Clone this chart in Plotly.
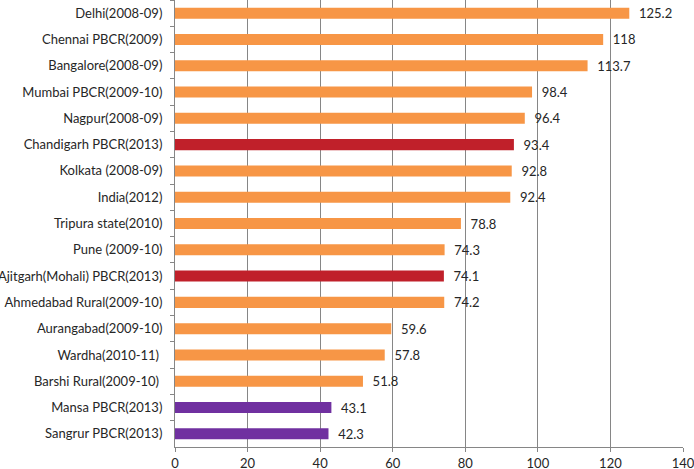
import plotly.graph_objects as go

categories = [
    "Delhi(2008-09)", "Chennai PBCR(2009)", "Bangalore(2008-09)", "Mumbai PBCR(2009-10)",
    "Nagpur(2008-09)", "Chandigarh PBCR(2013)", "Kolkata (2008-09)", "India(2012)",
    "Tripura state(2010)", "Pune (2009-10)", "Ajitgarh(Mohali) PBCR(2013)",
    "Ahmedabad Rural(2009-10)", "Aurangabad(2009-10)", "Wardha(2010-11) ",
    "Barshi Rural(2009-10) ", "Mansa PBCR(2013)", "Sangrur PBCR(2013)",
]
values = [125.2, 118, 113.7, 98.4, 96.4, 93.4, 92.8, 92.4, 78.8, 74.3, 74.1, 74.2,
          59.6, 57.8, 51.8, 43.1, 42.3]
value_labels = ["125.2", "118", "113.7", "98.4", "96.4", "93.4", "92.8", "92.4", "78.8",
                "74.3", "74.1", "74.2", "59.6", "57.8", "51.8", "43.1", "42.3"]
groups = ["o", "o", "o", "o", "o", "r", "o", "o", "o", "o", "r", "o", "o", "o", "o", "p", "p"]
x_ticks = [0, 20, 40, 60, 80, 100, 120, 140]

palette = {"o": "#F79646", "r": "#C0202A", "p": "#7030A0"}
colors = [palette[g] for g in groups]

FONT = "Lato, 'Open Sans', sans-serif"

fig = go.Figure(go.Bar(
    y=categories, x=values, orientation="h",
    marker=dict(color=colors, line=dict(width=0)),
    text=["  " + t for t in value_labels], textposition="outside",
    constraintext="none",
    textfont=dict(family=FONT, size=13, color="#262626"),
    cliponaxis=False, width=0.42,
))

fig.update_layout(
    width=694, height=469,
    margin=dict(l=175, r=11, t=0, b=22),
    paper_bgcolor="white", plot_bgcolor="white",
    showlegend=False,
    font=dict(family=FONT, size=13, color="#262626"),
)
fig.update_xaxes(
    range=[0, 140], tickvals=x_ticks, ticktext=[str(v) for v in x_ticks],
    showgrid=True, gridcolor="#868686", gridwidth=1,
    showline=True, linecolor="#868686", linewidth=1,
    ticks="outside", ticklen=4, tickcolor="#868686",
    zeroline=False, tickfont=dict(size=13, color="#262626"),
    ticklabeloverflow="allow", automargin=False,
)
fig.update_yaxes(
    categoryorder="array", categoryarray=categories, autorange="reversed",
    showline=True, linecolor="#868686", linewidth=1,
    ticks="outside", ticklen=4, tickcolor="#868686", tickson="boundaries",
    showgrid=False, automargin=False, ticklabelstandoff=9,
    tickfont=dict(size=13, color="#262626"),
)

fig.write_html("out.html", config={"displayModeBar": False},
               post_script="document.body.style.margin='0';")
